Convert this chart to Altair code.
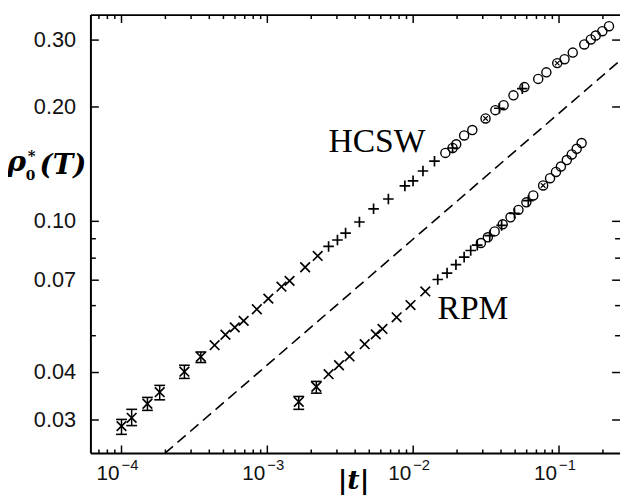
import altair as alt
import pandas as pd

# ---------------- data ----------------
# HCSW: points with error bars (low |t|)
hcsw_err_t = [1.00e-4, 1.174e-4, 1.506e-4, 1.828e-4, 2.70e-4, 3.50e-4]
hcsw_err_rho = [0.0289, 0.0304, 0.0331, 0.0355, 0.0402, 0.0440]
hcsw_err_lo = [0.0275, 0.0290, 0.0318, 0.0339, 0.0386, 0.0425]
hcsw_err_hi = [0.0301, 0.0320, 0.0344, 0.0370, 0.0418, 0.0453]
# HCSW: x-shaped markers
hcsw_x_t = [4.35e-4, 5.16e-4, 5.98e-4, 6.88e-4, 8.47e-4, 1.016e-3, 1.25e-3,
            1.42e-3, 1.816e-3, 2.215e-3]
hcsw_x_rho = [0.0472, 0.0503, 0.0526, 0.0547, 0.0587, 0.0626, 0.0673,
              0.0697, 0.0757, 0.0811]
# HCSW: plus-shaped markers
hcsw_p_t = [2.63e-3, 3.025e-3, 3.44e-3, 4.28e-3, 5.35e-3, 6.76e-3, 8.77e-3,
            9.98e-3, 1.167e-2, 1.40e-2, 1.863e-2, 3.90e-2, 5.60e-2]
hcsw_p_rho = [0.0859, 0.0893, 0.0931, 0.0996, 0.1079, 0.1145, 0.1240,
              0.1278, 0.1357, 0.1440, 0.1560, 0.1985, 0.2235]
# HCSW: circles
hcsw_o_t = [1.662e-2, 1.863e-2, 1.973e-2, 2.236e-2, 2.544e-2, 3.135e-2,
            3.66e-2, 4.17e-2, 4.87e-2, 5.79e-2, 7.20e-2, 8.19e-2, 9.72e-2,
            0.1091, 0.1242, 0.1490, 0.1652, 0.1785, 0.1982, 0.2201]
hcsw_o_rho = [0.1514, 0.1560, 0.1595, 0.1683, 0.1739, 0.1866, 0.1962,
              0.2022, 0.2146, 0.2256, 0.2371, 0.2467, 0.2609, 0.2672,
              0.2781, 0.2922, 0.3011, 0.3084, 0.3166, 0.3263]

# RPM: points with error bars
rpm_err_t = [1.642e-3, 2.167e-3]
rpm_err_rho = [0.0335, 0.0367]
rpm_err_lo = [0.0320, 0.0353]
rpm_err_hi = [0.0346, 0.0379]
# RPM: x-shaped markers
rpm_x_t = [2.63e-3, 3.10e-3, 3.66e-3, 4.65e-3, 5.54e-3, 6.16e-3, 7.70e-3,
           9.59e-3, 1.211e-2]
rpm_x_rho = [0.0396, 0.0418, 0.0441, 0.0475, 0.0504, 0.0521, 0.0559,
             0.0602, 0.0654]
# RPM: plus-shaped markers
rpm_p_t = [1.474e-2, 1.707e-2, 1.964e-2, 2.236e-2, 2.48e-2, 2.75e-2,
           3.35e-2, 4.04e-2, 4.95e-2, 6.16e-2]
rpm_p_rho = [0.0703, 0.0731, 0.0769, 0.0805, 0.0838, 0.0866,
             0.0917, 0.0976, 0.1049, 0.1134]
# RPM: circles
rpm_o_t = [2.913e-2, 3.25e-2, 3.62e-2, 4.11e-2, 4.65e-2, 5.27e-2, 5.97e-2,
           6.66e-2, 7.78e-2, 8.68e-2, 9.53e-2, 0.1030, 0.1131, 0.1223,
           0.1322, 0.1429]
rpm_o_rho = [0.0877, 0.0908, 0.0941, 0.0982, 0.1025, 0.1072, 0.1122,
             0.1170, 0.1243, 0.1299, 0.1349, 0.1394, 0.1450, 0.1500,
             0.1552, 0.1607]

# circles with a small cross inside
marked_t = [3.135e-2, 9.72e-2, 7.78e-2]
marked_rho = [0.1866, 0.2609, 0.1243]

# dashed reference line (power law), end points
line_t = [1.98e-4, 0.262]
line_rho = [0.0245, 0.265]

# annotations
ann_text = ["HCSW", "RPM"]
ann_t = [5.64e-3, 2.57e-2]
ann_rho = [0.1523, 0.0553]

# axes
x_domain = [6.17e-5, 0.262]
y_domain = [0.0245, 0.349]
x_major = [1e-4, 1e-3, 1e-2, 1e-1]
x_major_exp = ["\u22124", "\u22123", "\u22122", "\u22121"]
x_minor = [7e-5, 8e-5, 9e-5] + [m * 10.0 ** e for e in (-4, -3, -2) for m in range(2, 10)] + [0.2]
y_major = [0.03, 0.04, 0.07, 0.10, 0.20, 0.30]
y_major_lab = ["0.03", "0.04", "0.07", "0.10", "0.20", "0.30"]
y_minor = [0.05, 0.06, 0.08, 0.09]

# ---------------- chart ----------------
W, H = 536, 444
xs = alt.Scale(type="log", domain=x_domain, nice=False)
ys = alt.Scale(type="log", domain=y_domain, nice=False)

XPATH = "M-1,-1L1,1M-1,1L1,-1"
PPATH = "M-1,0L1,0M0,-1L0,1"


def X(field="t"):
    return alt.X(f"{field}:Q", scale=xs, axis=None)


def Y(field="rho"):
    return alt.Y(f"{field}:Q", scale=ys, axis=None)


err_df = pd.DataFrame({
    "t": hcsw_err_t + rpm_err_t,
    "rho": hcsw_err_rho + rpm_err_rho,
    "lo": hcsw_err_lo + rpm_err_lo,
    "hi": hcsw_err_hi + rpm_err_hi,
})
x_df = pd.DataFrame({"t": hcsw_x_t + rpm_x_t + hcsw_err_t + rpm_err_t,
                     "rho": hcsw_x_rho + rpm_x_rho + hcsw_err_rho + rpm_err_rho})
p_df = pd.DataFrame({"t": hcsw_p_t + rpm_p_t, "rho": hcsw_p_rho + rpm_p_rho})
o_df = pd.DataFrame({"t": hcsw_o_t + rpm_o_t, "rho": hcsw_o_rho + rpm_o_rho})
m_df = pd.DataFrame({"t": marked_t, "rho": marked_rho})
line_df = pd.DataFrame({"t": line_t, "rho": line_rho})
ann_df = pd.DataFrame({"t": ann_t, "rho": ann_rho, "txt": ann_text})
xmaj_df = pd.DataFrame({"v": x_major, "exp": x_major_exp, "base": ["10"] * 4})
xmin_df = pd.DataFrame({"v": x_minor})
ymaj_df = pd.DataFrame({"v": y_major, "lab": y_major_lab})
ymin_df = pd.DataFrame({"v": y_minor})

BLACK = "#000000"

frame = [
    alt.Chart(pd.DataFrame({"a": [0]})).mark_rule(color=BLACK, strokeWidth=2).encode(
        x=alt.value(0), x2=alt.value(W), y=alt.value(0)),
    alt.Chart(pd.DataFrame({"a": [0]})).mark_rule(color=BLACK, strokeWidth=2).encode(
        x=alt.value(0), x2=alt.value(W), y=alt.value(H)),
    alt.Chart(pd.DataFrame({"a": [0]})).mark_rule(color=BLACK, strokeWidth=2).encode(
        x=alt.value(0), y=alt.value(0), y2=alt.value(H)),
]

ticks = [
    alt.Chart(xmaj_df).mark_rule(color=BLACK, strokeWidth=1.5).encode(
        x=X("v"), y=alt.value(H), y2=alt.value(H - 8)),
    alt.Chart(xmaj_df).mark_rule(color=BLACK, strokeWidth=1.5).encode(
        x=X("v"), y=alt.value(0), y2=alt.value(8)),
    alt.Chart(xmin_df).mark_rule(color=BLACK, strokeWidth=1.5).encode(
        x=X("v"), y=alt.value(H), y2=alt.value(H - 4)),
    alt.Chart(xmin_df).mark_rule(color=BLACK, strokeWidth=1.5).encode(
        x=X("v"), y=alt.value(0), y2=alt.value(4)),
    alt.Chart(ymaj_df).mark_rule(color=BLACK, strokeWidth=1.5).encode(
        y=Y("v"), x=alt.value(0), x2=alt.value(8)),
    alt.Chart(ymaj_df).mark_rule(color=BLACK, strokeWidth=1.5).encode(
        y=Y("v"), x=alt.value(W - 8), x2=alt.value(W)),
    alt.Chart(ymin_df).mark_rule(color=BLACK, strokeWidth=1.5).encode(
        y=Y("v"), x=alt.value(0), x2=alt.value(5)),
    alt.Chart(ymin_df).mark_rule(color=BLACK, strokeWidth=1.5).encode(
        y=Y("v"), x=alt.value(W - 5), x2=alt.value(W)),
]

tick_labels = [
    alt.Chart(ymaj_df).mark_text(align="right", baseline="middle", fontSize=22,
                                 font="Liberation Sans", color="#111111").encode(
        y=Y("v"), x=alt.value(-15), text="lab:N"),
    alt.Chart(xmaj_df).mark_text(align="right", baseline="alphabetic", fontSize=21,
                                 font="Liberation Sans", color="#111111", dx=-2).encode(
        x=X("v"), y=alt.value(H + 27), text="base:N"),
    alt.Chart(xmaj_df).mark_text(align="left", baseline="alphabetic", fontSize=15,
                                 font="Liberation Sans", color="#111111", dx=0).encode(
        x=X("v"), y=alt.value(H + 17), text="exp:N"),
]

TF = "DejaVu Serif"
titles = [
    alt.Chart(pd.DataFrame({"s": ["\u03c1"]})).mark_text(
        align="left", baseline="alphabetic", fontSize=29, font=TF,
        fontStyle="italic", fontWeight="bold", color=BLACK).encode(
        x=alt.value(-85), y=alt.value(158), text="s:N"),
    alt.Chart(pd.DataFrame({"s": ["*"]})).mark_text(
        align="left", baseline="alphabetic", fontSize=15, font=TF,
        fontStyle="italic", fontWeight="bold", color=BLACK).encode(
        x=alt.value(-64), y=alt.value(148), text="s:N"),
    alt.Chart(pd.DataFrame({"s": ["0"]})).mark_text(
        align="left", baseline="alphabetic", fontSize=14, font=TF,
        fontWeight="bold", color=BLACK).encode(
        x=alt.value(-66), y=alt.value(167), text="s:N"),
    alt.Chart(pd.DataFrame({"s": ["(T)"]})).mark_text(
        align="left", baseline="alphabetic", fontSize=28, font=TF,
        fontStyle="italic", fontWeight="bold", color=BLACK).encode(
        x=alt.value(-52), y=alt.value(161), text="s:N"),
    alt.Chart(pd.DataFrame({"s": ["|t|"]})).mark_text(
        align="center", baseline="alphabetic", fontSize=27, font=TF,
        fontStyle="italic", fontWeight="bold", color=BLACK).encode(
        x=alt.value(266), y=alt.value(H + 36), text="s:N"),
]

dashed = alt.Chart(line_df).mark_line(color=BLACK, strokeWidth=1.6,
                                      strokeDash=[11, 6], clip=True).encode(
    x=X(), y=Y())

errbars = [
    alt.Chart(err_df).mark_rule(color=BLACK, strokeWidth=1.5).encode(
        x=X(), y=Y("lo"), y2="hi:Q"),
    alt.Chart(err_df).mark_tick(color=BLACK, orient="horizontal", size=11,
                                thickness=1.6, opacity=1).encode(x=X(), y=Y("lo")),
    alt.Chart(err_df).mark_tick(color=BLACK, orient="horizontal", size=11,
                                thickness=1.6, opacity=1).encode(x=X(), y=Y("hi")),
]

points = [
    alt.Chart(x_df).mark_point(shape=XPATH, size=95, filled=False, stroke=BLACK,
                               strokeWidth=1.7, opacity=1).encode(x=X(), y=Y()),
    alt.Chart(p_df).mark_point(shape=PPATH, size=115, filled=False, stroke=BLACK,
                               strokeWidth=1.7, opacity=1).encode(x=X(), y=Y()),
    alt.Chart(o_df).mark_point(shape="circle", size=85, filled=False, stroke=BLACK,
                               strokeWidth=1.4, opacity=1).encode(x=X(), y=Y()),
    alt.Chart(m_df).mark_point(shape=XPATH, size=22, filled=False, stroke=BLACK,
                               strokeWidth=1.2, opacity=1).encode(x=X(), y=Y()),
]

annotations = alt.Chart(ann_df).mark_text(
    align="center", baseline="alphabetic", fontSize=34, font="Liberation Serif",
    color=BLACK).encode(x=X(), y=Y(), text="txt:N")

chart = alt.layer(
    *frame, *ticks, dashed, *errbars, *points, annotations, *tick_labels, *titles
).properties(
    width=W, height=H,
    autosize=alt.AutoSizeParams(type="none"),
    padding={"left": 84, "top": 4, "right": 2, "bottom": 45},
).configure_view(stroke=None)

chart.save("out.html", embed_options={"renderer": "svg", "actions": False})
